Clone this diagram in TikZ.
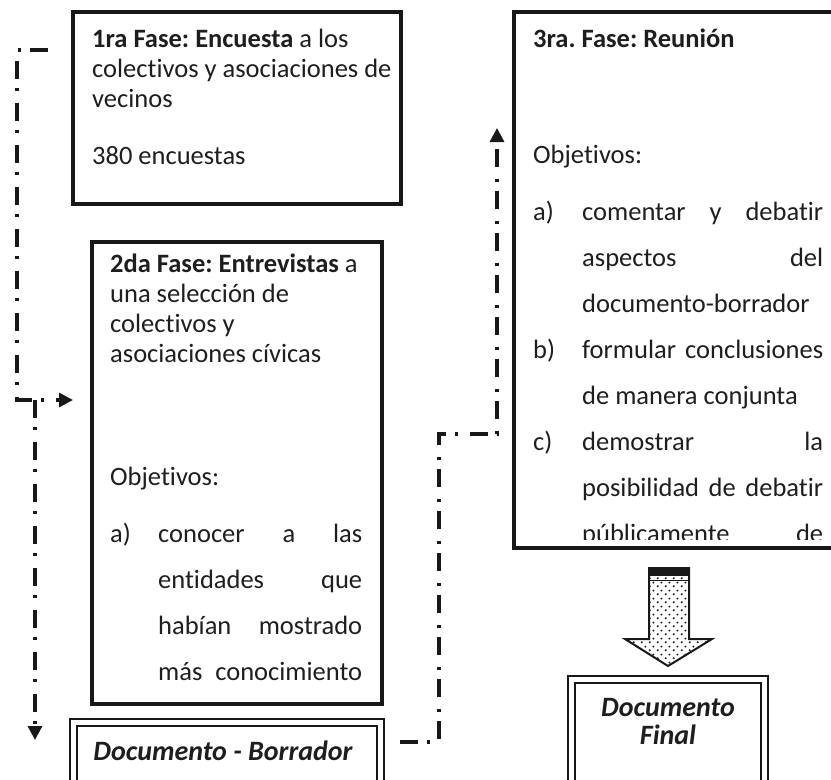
\documentclass[tikz,border=0pt]{standalone}
\usepackage{fontspec}
\setmainfont{Carlito}[Ligatures=NoCommon]
\frenchspacing
\usetikzlibrary{positioning,calc,arrows.meta,patterns.meta}

\definecolor{inkline}{RGB}{24,24,24}
\definecolor{inktext}{RGB}{30,30,30}

\tikzdeclarepattern{
  name=arrowdots,
  type=colored,
  bounding box={(0pt,0pt) and (8pt,8pt)},
  tile size={(8pt,8pt)},
  code={
    \fill[black!85] (2pt,2pt) circle (1.25pt);
    \fill[black!85] (6pt,6pt) circle (1.25pt);
  }
}

\begin{document}
\begin{tikzpicture}[x=1pt, y=-1pt,
            phasebox/.style={
                rectangle, draw=inkline, line width=3.2pt,
                inner sep=0pt, outer sep=0pt, anchor=north west
            },
            docbox/.style={
                rectangle, draw=inkline, line width=2.8pt,
                inner sep=0pt, outer sep=0pt, anchor=north west
            },
            phasetext/.style={
                inner sep=0pt, align=left, text=inktext,
                font=\fontsize{26.5}{30}\selectfont
            },
            doctext/.style={
                inner sep=0pt, align=center, text=inktext,
                font=\fontsize{28}{28}\selectfont\bfseries\itshape
            },
            flowline/.style={
                draw=inkline, line width=3.2pt,
                dash pattern=on 18pt off 9pt on 3pt off 12pt,
                -{Triangle[length=14pt,width=14pt]}
            },
            bigarrow/.style={draw=inkline, line width=2pt, pattern=arrowdots},
        ]

            \useasboundingbox (0,0) rectangle (831,780);
            \clip (0,0) rectangle (831,780);

            % phase boxes
            \node [phasebox, minimum width=328, minimum height=192] (fase1) at (73,12) {};
            \node [phasetext] (fase1text) [ below right=14pt and 19pt of fase1.north west, anchor=north west ]
                {\rule{0pt}{21pt}\textbf{1ra Fase: Encuesta} a los\\
                 colectivos y asociaciones de\\
                 vecinos\\[27pt]
                 380 encuestas};

            \node [phasebox, minimum width=290, minimum height=462] (fase2) at (92,242) {};
            \node [phasetext] (fase2text) [ below right=9pt and 18pt of fase2.north west, anchor=north west ]
                {\rule{0pt}{21pt}\textbf{2da Fase: Entrevistas} a\\
                 una selección de\\
                 colectivos y\\
                 asociaciones cívicas\\[93pt]
                 Objetivos:\\[27pt]
                 \makebox[48pt][l]{a)}\makebox[204pt][s]{conocer a las}\\[16pt]
                 \hspace*{48pt}\makebox[204pt][s]{entidades que}\\[16pt]
                 \hspace*{48pt}\makebox[204pt][s]{habían mostrado}\\[16pt]
                 \hspace*{48pt}\makebox[204pt][s]{más conocimiento}};

            \node [phasebox, minimum width=331, minimum height=536] (fase3) at (514,12) {};
            \begin{scope}
                \clip (514,12) rectangle (850,539);
                \node [phasetext] (fase3text) [ below right=14pt and 19pt of fase3.north west, anchor=north west ]
                    {\rule{0pt}{21pt}\textbf{3ra. Fase: Reunión}\\[86pt]
                     Objetivos:\\[27pt]
                     \makebox[49pt][l]{a)}\makebox[241pt][s]{comentar y debatir}\\[16pt]
                     \hspace*{49pt}\makebox[241pt][s]{aspectos del}\\[16pt]
                     \hspace*{49pt}documento-borrador\\[16pt]
                     \makebox[49pt][l]{b)}\makebox[241pt][s]{formular conclusiones}\\[16pt]
                     \hspace*{49pt}de manera conjunta\\[16pt]
                     \makebox[49pt][l]{c)}\makebox[241pt][s]{demostrar la}\\[16pt]
                     \hspace*{49pt}\makebox[241pt][s]{posibilidad de debatir}\\[16pt]
                     \hspace*{49pt}\makebox[241pt][s]{públicamente de}};
            \end{scope}

            % documents
            \node [docbox, minimum width=314, minimum height=81] (borrador) at (70,719) {};
            \draw [inkline, line width=1.3pt] ($(borrador.north west)+(7,7)$) rectangle ($(borrador.south east)+(-7,-7)$);
            \node [doctext] (borradortext) at ($(borrador.north)+(-4,32)$) {Documento - Borrador};

            \node [docbox, minimum width=200, minimum height=124] (final) at (568,676) {};
            \draw [inkline, line width=1.3pt] ($(final.north west)+(7,7)$) rectangle ($(final.south east)+(-7,-7)$);
            \node [doctext] (finaltext) at ($(final.north)+(0,46)$) {Documento\\Final};

            % connectors
            \draw [flowline] ([shift={(-25pt,-38pt)}]fase1.north west) -- ++(-31,0) |- ([shift={(-19pt,-158pt)}]fase2.north west);
            \draw [flowline] ([shift={(-57pt,-158pt)}]fase2.north west) -- ([shift={(-35pt,-21pt)}]borrador.north west);
            \draw [flowline] ([shift={(16pt,-23pt)}]borrador.north east) -- ++(39,0) -- ++(0,-308) -| ([shift={(-17pt,-116pt)}]fase3.north west);

            % block arrow down to the final document
            \draw [bigarrow] ([yshift=10pt]final.north) -- ++(-43,-27) -- ++(24,0) -- ++(0,-71) -- ++(40,0) -- ++(0,71) -- ++(23,0) -- cycle;
            \fill [inkline] ([shift={(-19pt,108pt)}]final.north) rectangle ++(40,8);
            \draw [inkline, line width=1.5pt] ([shift={(-19pt,95.5pt)}]final.north) -- ++(40,0);

        \end{tikzpicture}
\end{document}
